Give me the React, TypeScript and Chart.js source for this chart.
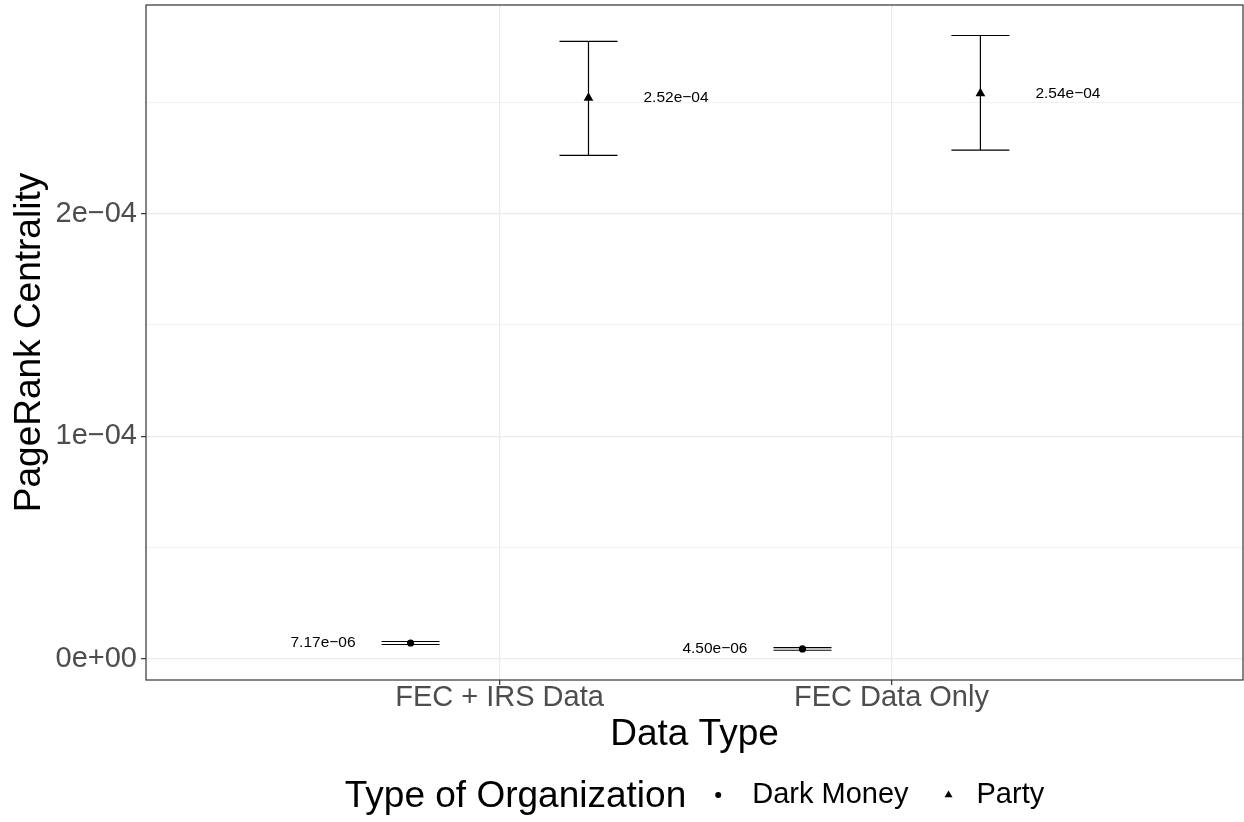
import { useEffect, useRef } from "react";
import { Chart, registerables } from "chart.js";

Chart.register(...registerables);

// ---------- data ----------
const categories = ["FEC + IRS Data", "FEC Data Only"];
const groups = ["Dark Money", "Party"];
const darkMoneyMean = [7.17e-6, 4.5e-6];
const darkMoneyLow = [6.5e-6, 3.92e-6];
const darkMoneyHigh = [7.84e-6, 5.08e-6];
const partyMean = [2.52e-4, 2.54e-4];
const partyLow = [2.262e-4, 2.285e-4];
const partyHigh = [2.774e-4, 2.8e-4];
const yTickValues = [0, 5e-5, 1e-4, 1.5e-4, 2e-4, 2.5e-4];
const yTickLabels = ["0e+00", "", "1e\u221204", "", "2e\u221204", ""];

const DODGE = 0.227;
const WHISKER = 0.074;
const FONT = "'Liberation Sans', Arial, Helvetica, sans-serif";

const fmt = (v: number) => {
  const [m, e] = v.toExponential(2).split("e");
  const n = parseInt(e, 10);
  return `${m}e${n < 0 ? "\u2212" : "+"}${String(Math.abs(n)).padStart(2, "0")}`;
};

const series = [
  { name: groups[0], mean: darkMoneyMean, low: darkMoneyLow, high: darkMoneyHigh, offset: -DODGE, side: -1 },
  { name: groups[1], mean: partyMean, low: partyLow, high: partyHigh, offset: DODGE, side: 1 },
];

const errorBarPlugin = {
  id: "errorBars",
  afterDatasetsDraw(chart: any) {
    const { ctx, scales, chartArea } = chart;
    const xs = scales.x;
    const ys = scales.y;
    ctx.save();
    ctx.beginPath();
    ctx.rect(chartArea.left, chartArea.top, chartArea.right - chartArea.left, chartArea.bottom - chartArea.top);
    ctx.clip();
    ctx.strokeStyle = "#000000";
    ctx.lineWidth = 1.2;
    series.forEach((s) => {
      s.mean.forEach((m, i) => {
        const xc = i + 1 + s.offset;
        const x0 = xs.getPixelForValue(xc - WHISKER);
        const x1 = xs.getPixelForValue(xc + WHISKER);
        const xm = xs.getPixelForValue(xc);
        const yl = ys.getPixelForValue(s.low[i]);
        const yh = ys.getPixelForValue(s.high[i]);
        ctx.beginPath();
        ctx.moveTo(x0, yh);
        ctx.lineTo(x1, yh);
        ctx.moveTo(x0, yl);
        ctx.lineTo(x1, yl);
        ctx.moveTo(xm, yl);
        ctx.lineTo(xm, yh);
        ctx.stroke();
      });
    });
    // labels
    ctx.fillStyle = "#000000";
    ctx.font = `15.5px ${FONT}`;
    ctx.textBaseline = "middle";
    series.forEach((s) => {
      s.mean.forEach((m, i) => {
        const xc = i + 1 + s.offset;
        const px = xs.getPixelForValue(xc);
        const py = ys.getPixelForValue(m);
        ctx.textAlign = s.side < 0 ? "right" : "left";
        ctx.fillText(fmt(m), px + s.side * 55, py);
      });
    });
    ctx.restore();
    // panel border
    ctx.save();
    ctx.strokeStyle = "#333333";
    ctx.lineWidth = 1.2;
    ctx.strokeRect(chartArea.left, chartArea.top, chartArea.right - chartArea.left, chartArea.bottom - chartArea.top);
    ctx.restore();
  },
  afterDraw(chart: any) {
    const { ctx, chartArea } = chart;
    ctx.save();
    const titleFont = `37px ${FONT}`;
    const itemFont = `29px ${FONT}`;
    ctx.font = titleFont;
    const title = "Type of Organization";
    const tw = ctx.measureText(title).width;
    ctx.font = itemFont;
    const w0 = ctx.measureText(groups[0]).width;
    const w1 = ctx.measureText(groups[1]).width;
    const total = tw + 32 + 34 + w0 + 40 + 28 + w1;
    let x = (chartArea.left + chartArea.right) / 2 - total / 2;
    ctx.fillStyle = "#000000";
    ctx.textAlign = "left";
    ctx.textBaseline = "alphabetic";
    ctx.font = titleFont;
    ctx.fillText(title, x, 807);
    x += tw + 32;
    // dot
    ctx.beginPath();
    ctx.arc(x, 795, 3, 0, Math.PI * 2);
    ctx.fill();
    x += 34;
    ctx.font = itemFont;
    ctx.fillText(groups[0], x, 803);
    x += w0 + 40;
    // triangle
    const r = 4.6;
    const ty = 795;
    ctx.beginPath();
    ctx.moveTo(x, ty - r);
    ctx.lineTo(x + r * 0.866, ty + r * 0.5);
    ctx.lineTo(x - r * 0.866, ty + r * 0.5);
    ctx.closePath();
    ctx.fill();
    x += 28;
    ctx.fillText(groups[1], x, 803);
    ctx.restore();
  },
};

export default function App() {
  const ref = useRef<HTMLCanvasElement | null>(null);
  useEffect(() => {
    if (!ref.current) return;
    const chart = new Chart(ref.current, {
      type: "scatter",
      data: {
        datasets: [
          {
            label: groups[0],
            data: darkMoneyMean.map((v, i) => ({ x: i + 1 - DODGE, y: v })),
            pointStyle: "circle",
            pointRadius: 3.6,
            pointBorderWidth: 0,
            backgroundColor: "#000000",
            borderColor: "#000000",
          },
          {
            label: groups[1],
            data: partyMean.map((v, i) => ({ x: i + 1 + DODGE, y: v })),
            pointStyle: "triangle",
            pointRadius: 5.6,
            pointBorderWidth: 0,
            backgroundColor: "#000000",
            borderColor: "#000000",
          },
        ],
      },
      options: {
        responsive: false,
        animation: false,
        layout: { autoPadding: false, padding: { top: 5, right: 1, bottom: 0, left: 0 } },
        plugins: { legend: { display: false }, tooltip: { enabled: false } },
        scales: {
          x: {
            type: "linear",
            position: "bottom",
            min: 0.098,
            max: 2.897,
            afterFit: (scale: any) => {
              scale.height = 142;
              scale.paddingLeft = 0;
              scale.paddingRight = 0;
            },
            afterBuildTicks: (scale: any) => {
              scale.ticks = categories.map((_, i) => ({ value: i + 1 }));
            },
            grid: {
              color: "#EBEBEB",
              lineWidth: 1.3,
              tickLength: 5,
              tickColor: "#333333",
              tickWidth: 1.2,
            },
            border: { display: false },
            ticks: {
              callback: (v: any) => categories[Math.round(Number(v)) - 1] ?? "",
              color: "#4D4D4D",
              font: { family: FONT, size: 29, lineHeight: 1 },
              padding: -2,
              maxRotation: 0,
              autoSkip: false,
            },
            title: {
              display: true,
              text: "Data Type",
              color: "#000000",
              font: { family: FONT, size: 37, lineHeight: 1.2 },
              padding: { top: 0, bottom: 65 },
            },
          },
          y: {
            type: "linear",
            min: -9.44e-6,
            max: 2.937e-4,
            afterFit: (scale: any) => {
              scale.width = 146;
              scale.paddingTop = 0;
              scale.paddingBottom = 0;
            },
            afterBuildTicks: (scale: any) => {
              scale.ticks = yTickValues.map((v) => ({ value: v }));
            },
            grid: {
              color: "#EBEBEB",
              lineWidth: (c: any) => (c.index % 2 === 0 ? 1.3 : 0.7),
              tickLength: 5,
              tickColor: (c: any) => (c.index % 2 === 0 ? "#333333" : "rgba(0,0,0,0)"),
              tickWidth: 1.2,
            },
            border: { display: false },
            ticks: {
              callback: (_v: any, i: number) => yTickLabels[i],
              color: "#4D4D4D",
              font: { family: FONT, size: 29, lineHeight: 1 },
              padding: 4,
              autoSkip: false,
            },
            title: {
              display: true,
              text: "PageRank Centrality",
              color: "#000000",
              font: { family: FONT, size: 37, lineHeight: 1.2 },
              padding: { top: 8, bottom: 0 },
            },
          },
        },
      },
      plugins: [errorBarPlugin],
    } as any);
    return () => chart.destroy();
  }, []);
  return (
    <div style={{ position: "absolute", left: 0, top: 0, width: 1244, height: 822, background: "#ffffff" }}>
      <canvas ref={ref} width={1244} height={822} style={{ display: "block" }} />
    </div>
  );
}
